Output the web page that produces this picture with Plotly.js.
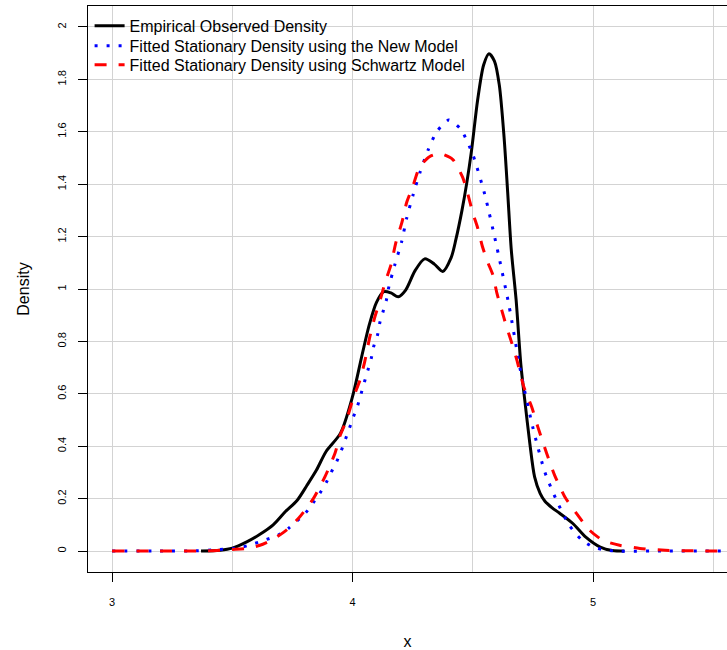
<!DOCTYPE html>
<html>
<head>
<meta charset="utf-8">
<script src="https://cdn.plot.ly/plotly-3.0.1.min.js"></script>
<style>html,body{margin:0;padding:0;background:#fff;}#chart{width:727px;height:650px;}</style>
</head>
<body>
<div id="chart"></div>
<script>
// Empirical observed density (black solid)
const empX = [3.37, 3.45, 3.50, 3.56, 3.615, 3.67, 3.72, 3.77, 3.81, 3.85, 3.89, 3.95, 4.00, 4.04, 4.07, 4.10, 4.13, 4.16, 4.19, 4.22, 4.26, 4.30, 4.34, 4.375, 4.41, 4.43, 4.455, 4.475, 4.495, 4.52, 4.545, 4.567, 4.59, 4.61, 4.63, 4.645, 4.66, 4.68, 4.70, 4.716, 4.737, 4.757, 4.78, 4.80, 4.83, 4.86, 4.915, 4.97, 5.03, 5.08, 5.13];
const empY = [0.0, 0.003, 0.011, 0.035, 0.064, 0.10, 0.15, 0.194, 0.25, 0.309, 0.38, 0.45, 0.59, 0.75, 0.865, 0.95, 0.99, 0.985, 0.97, 0.995, 1.07, 1.115, 1.095, 1.067, 1.12, 1.19, 1.30, 1.405, 1.53, 1.72, 1.855, 1.898, 1.87, 1.78, 1.58, 1.37, 1.15, 0.96, 0.71, 0.577, 0.412, 0.283, 0.22, 0.19, 0.165, 0.145, 0.106, 0.053, 0.015, 0.002, 0.0];

// Fitted stationary density, new model (blue dotted)
const newX = [3.0, 3.2, 3.35, 3.448, 3.503, 3.545, 3.593, 3.642, 3.69, 3.733, 3.806, 3.837, 3.865, 3.892, 3.912, 3.936, 3.954, 3.972, 3.988, 4.004, 4.022, 4.036, 4.05, 4.064, 4.078, 4.088, 4.104, 4.113, 4.127, 4.141, 4.15, 4.175, 4.204, 4.225, 4.252, 4.28, 4.314, 4.35, 4.40, 4.45, 4.50, 4.55, 4.60, 4.65, 4.70, 4.75, 4.80, 4.85, 4.90, 4.95, 5.00, 5.05, 5.10, 5.30, 5.557];
const newY = [0.0, 0.0, 0.001, 0.006, 0.010, 0.016, 0.029, 0.044, 0.060, 0.086, 0.147, 0.185, 0.222, 0.264, 0.302, 0.345, 0.385, 0.430, 0.471, 0.513, 0.557, 0.602, 0.647, 0.691, 0.736, 0.781, 0.825, 0.870, 0.914, 0.959, 1.004, 1.09, 1.18, 1.27, 1.36, 1.444, 1.53, 1.60, 1.645, 1.61, 1.513, 1.36, 1.16, 0.94, 0.68, 0.47, 0.30, 0.19, 0.10, 0.045, 0.015, 0.004, 0.0, 0.0, 0.0];

// Fitted stationary density, Schwartz model (red dashed)
const schX = [3.0, 3.2, 3.4, 3.50, 3.56, 3.615, 3.67, 3.725, 3.78, 3.837, 3.885, 3.927, 3.948, 3.975, 4.005, 4.03, 4.05, 4.072, 4.093, 4.115, 4.135, 4.16, 4.18, 4.205, 4.225, 4.25, 4.28, 4.32, 4.363, 4.417, 4.458, 4.48, 4.50, 4.52, 4.54, 4.563, 4.583, 4.60, 4.62, 4.64, 4.66, 4.683, 4.712, 4.745, 4.77, 4.807, 4.84, 4.883, 4.93, 4.985, 5.04, 5.11, 5.195, 5.30, 5.40, 5.557];
const schY = [0.0, 0.0, 0.001, 0.006, 0.010, 0.022, 0.045, 0.080, 0.130, 0.200, 0.283, 0.373, 0.44, 0.50, 0.59, 0.65, 0.72, 0.818, 0.894, 0.958, 1.024, 1.093, 1.177, 1.253, 1.33, 1.39, 1.468, 1.505, 1.517, 1.494, 1.426, 1.36, 1.29, 1.234, 1.162, 1.10, 1.055, 0.985, 0.92, 0.857, 0.80, 0.73, 0.627, 0.55, 0.475, 0.373, 0.29, 0.206, 0.145, 0.08, 0.041, 0.022, 0.010, 0.003, 0.001, 0.0];

const seriesNames = ["Empirical Observed Density", "Fitted Stationary Density using the New Model", "Fitted Stationary Density using Schwartz Model"];
const xTicks = [3, 4, 5];
const xTickText = ["3", "4", "5"];

const FONT = "Liberation Sans, Arial, Helvetica, sans-serif";

const traces = [
  {x: empX, y: empY, name: seriesNames[0], legend: "legend", mode: "lines", line: {color: "#000000", width: 3, shape: "spline", smoothing: 0.8}},
  {x: newX, y: newY, name: seriesNames[1], legend: "legend2", mode: "lines", line: {color: "#0000ff", width: 3, dash: "3px,9px", shape: "spline", smoothing: 0.6}},
  {x: schX, y: schY, name: seriesNames[2], legend: "legend3", mode: "lines", line: {color: "#ff0000", width: 3, dash: "12px,12px", shape: "spline", smoothing: 0.6}}
];

function legendAt(yv) {
  return {
    x: 0.0025, xanchor: "left", y: yv, yanchor: "top",
    bgcolor: "rgba(0,0,0,0)", borderwidth: 0,
    font: {family: FONT, size: 16, color: "#000000"},
    itemwidth: 30, tracegroupgap: 0
  };
}

const layout = {
  width: 727, height: 650,
  margin: {l: 88, r: 0, t: 6, b: 78, pad: 0},
  paper_bgcolor: "#ffffff", plot_bgcolor: "#ffffff",
  font: {family: FONT, color: "#000000", size: 11},
  showlegend: true,
  legend: legendAt(0.995),
  legend2: legendAt(0.9597),
  legend3: legendAt(0.926),
  xaxis: {
    range: [2.9, 5.557], autorange: false,
    tickvals: xTicks, ticktext: xTickText,
    ticks: "outside", ticklen: 9, tickwidth: 1, tickcolor: "#000000",
    showline: true, mirror: true, linecolor: "#000000", linewidth: 1,
    showgrid: true, gridcolor: "#d3d3d3", gridwidth: 1,
    minor: {dtick: 0.5, tick0: 3, showgrid: true, gridcolor: "#d3d3d3", gridwidth: 1},
    zeroline: false,
    tickfont: {family: FONT, size: 11, color: "#000000"},
    ticklabelstandoff: 11,
    title: {text: "x", font: {family: FONT, size: 16, color: "#000000"}, standoff: 29},
    automargin: false
  },
  yaxis: {
    range: [-0.08, 2.08], autorange: false,
    tick0: 0, dtick: 0.2,
    ticks: "outside", ticklen: 9, tickwidth: 1, tickcolor: "#000000",
    tickangle: -90,
    showline: true, mirror: false, linecolor: "#000000", linewidth: 1,
    showgrid: true, gridcolor: "#d3d3d3", gridwidth: 1,
    zeroline: false,
    tickfont: {family: FONT, size: 11, color: "#000000"},
    ticklabelstandoff: 8,
    title: {text: "Density", font: {family: FONT, size: 16, color: "#000000"}, standoff: 21},
    automargin: false
  }
};

Plotly.newPlot("chart", traces, layout, {staticPlot: true, displayModeBar: false});
</script>
</body>
</html>
